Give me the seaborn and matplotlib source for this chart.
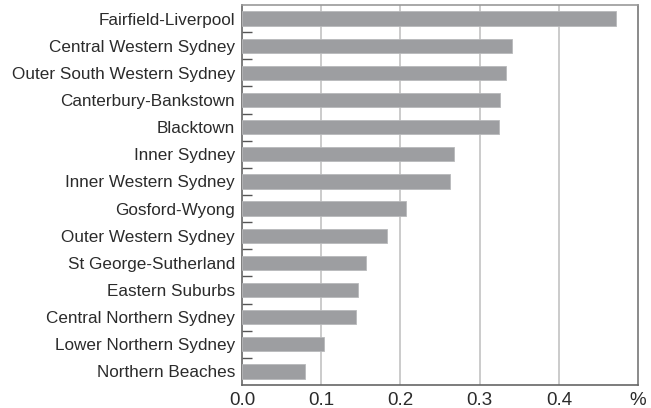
import matplotlib
matplotlib.use("Agg")
import matplotlib.pyplot as plt
import seaborn as sns
import pandas as pd
import numpy as np

regions = [
    "Fairfield-Liverpool",
    "Central Western Sydney",
    "Outer South Western Sydney",
    "Canterbury-Bankstown",
    "Blacktown",
    "Inner Sydney",
    "Inner Western Sydney",
    "Gosford-Wyong",
    "Outer Western Sydney",
    "St George-Sutherland",
    "Eastern Suburbs",
    "Central Northern Sydney",
    "Lower Northern Sydney",
    "Northern Beaches",
]
values = [0.472, 0.341, 0.333, 0.326, 0.325, 0.267, 0.263,
          0.207, 0.183, 0.157, 0.146, 0.144, 0.104, 0.080]
x_ticks = [0.0, 0.1, 0.2, 0.3, 0.4, 0.5]
x_tick_labels = ["0.0", "0.1", "0.2", "0.3", "0.4", "%"]

df = pd.DataFrame({"region": regions, "value": values})

sns.set_theme(style="white")
plt.rcParams["font.family"] = ["Liberation Sans", "DejaVu Sans"]

fig = plt.figure(figsize=(6.51, 4.08), dpi=100)
ax = fig.add_axes([0.3717, 0.0564, 0.6085, 0.9313])

sns.barplot(data=df, x="value", y="region", orient="h", color="#9d9ea1",
            saturation=1, width=0.53, edgecolor="#b8b9bb", linewidth=0.6,
            ax=ax, zorder=3)

ax.set_xlim(0, 0.5)
ax.set_ylim(len(regions) - 0.5, -0.5)
ax.set_xticks(x_ticks)
ax.set_xticklabels(x_tick_labels)
ax.set_xlabel("")
ax.set_ylabel("")

# vertical gridlines behind the bars
for xv in x_ticks[1:-1]:
    ax.axvline(xv, color="#bdbdbd", linewidth=1.1, zorder=1)

# small inward ticks between categories
ax.set_yticks(np.arange(len(regions) - 1) + 0.5, minor=True)
ax.tick_params(axis="y", which="major", length=0, pad=5,
               labelsize=12.3, labelcolor="#2b2b2b")
ax.tick_params(axis="y", which="minor", direction="in", length=7,
               width=1, color="#555555", left=True)
ax.tick_params(axis="x", which="major", length=0, pad=5,
               labelsize=13.5, labelcolor="#2b2b2b")

for side in ["left", "right", "top", "bottom"]:
    ax.spines[side].set_visible(True)
    ax.spines[side].set_color("#666666")
    ax.spines[side].set_linewidth(1.2)
ax.spines["top"].set_color("#999999")
ax.spines["right"].set_color("#777777")

fig.savefig("out.png", dpi=100, facecolor="white")
